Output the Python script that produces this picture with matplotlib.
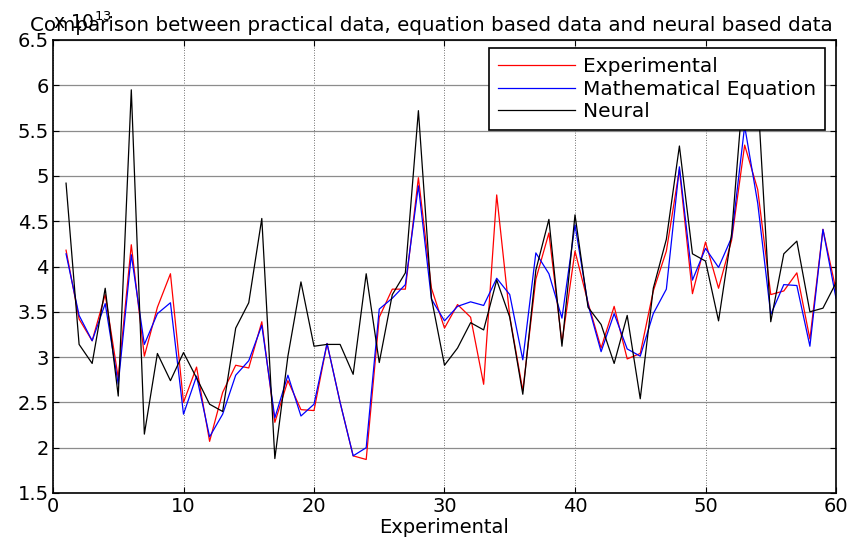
import matplotlib
matplotlib.use("Agg")
import matplotlib.pyplot as plt
from matplotlib.ticker import MultipleLocator, FormatStrFormatter

plt.rcParams['font.family'] = 'DejaVu Sans'

# values in units of 1e13, sample index 1..60
x = list(range(1, 61))

experimental = [
    4.18, 3.42, 3.18, 3.69, 2.77, 4.24, 3.01, 3.55, 3.92, 2.50,
    2.89, 2.07, 2.61, 2.91, 2.88, 3.39, 2.28, 2.74, 2.42, 2.41,
    3.15, 2.50, 1.91, 1.87, 3.44, 3.75, 3.75, 4.98, 3.76, 3.32,
    3.58, 3.44, 2.70, 4.79, 3.45, 2.63, 3.86, 4.37, 3.16, 4.17,
    3.60, 3.10, 3.56, 2.98, 3.04, 3.73, 4.17, 5.07, 3.70, 4.27,
    3.76, 4.29, 5.34, 4.85, 3.69, 3.73, 3.93, 3.20, 4.41, 3.74]

equation = [
    4.14, 3.46, 3.18, 3.59, 2.70, 4.13, 3.14, 3.48, 3.60, 2.37,
    2.79, 2.12, 2.37, 2.80, 2.96, 3.35, 2.33, 2.80, 2.35, 2.48,
    3.15, 2.50, 1.91, 2.00, 3.53, 3.65, 3.80, 4.89, 3.64, 3.40,
    3.56, 3.61, 3.57, 3.87, 3.69, 2.97, 4.15, 3.92, 3.43, 4.46,
    3.58, 3.06, 3.48, 3.09, 3.01, 3.48, 3.75, 5.10, 3.85, 4.20,
    3.99, 4.32, 5.55, 4.70, 3.47, 3.80, 3.79, 3.12, 4.41, 3.65]

neural = [
    4.92, 3.14, 2.93, 3.76, 2.57, 5.95, 2.15, 3.04, 2.74, 3.05,
    2.77, 2.48, 2.40, 3.32, 3.60, 4.53, 1.88, 3.01, 3.83, 3.12,
    3.14, 3.14, 2.81, 3.92, 2.94, 3.69, 3.93, 5.72, 3.65, 2.91,
    3.10, 3.38, 3.30, 3.85, 3.44, 2.59, 3.96, 4.52, 3.12, 4.57,
    3.55, 3.36, 2.93, 3.46, 2.54, 3.76, 4.30, 5.33, 4.14, 4.06,
    3.40, 4.36, 6.15, 5.90, 3.39, 4.14, 4.28, 3.50, 3.54, 3.82]

fig = plt.figure(figsize=(8.59, 5.44), dpi=100)
ax = fig.add_axes([53 / 859, 1 - 493 / 544, (836 - 53) / 859, (493 - 40) / 544])

ax.plot(x, experimental, color='#ff0000', lw=0.9, label='Experimental')
ax.plot(x, equation, color='#0000ff', lw=0.9, label='Mathematical Equation')
ax.plot(x, neural, color='black', lw=0.9, label='Neural')

ax.set_xlim(0, 60)
ax.set_ylim(1.5, 6.5)
ax.xaxis.set_major_locator(MultipleLocator(10))
ax.yaxis.set_major_locator(MultipleLocator(0.5))
ax.yaxis.set_major_formatter(FormatStrFormatter('%g'))

# matlab-ish grid: horizontal grey, vertical dotted
ax.yaxis.grid(True, color='#8c8c8c', lw=0.9, ls='-')
ax.xaxis.grid(True, color='#444444', lw=0.6, ls=(0, (1, 2)))
ax.set_axisbelow(True)

ax.tick_params(direction='in', top=True, right=True, length=4, labelsize=14,
               pad=3)
for s in ax.spines.values():
    s.set_linewidth(1.2)

ax.set_xlabel('Experimental', fontsize=14, labelpad=1)
ax.text(0.483, 1.01, 'Comparison between practical data, equation based data and neural based data',
        transform=ax.transAxes, ha='center', va='bottom', fontsize=14.3)
ax.text(0.0, 1.015, 'x 10$^{13}$', transform=ax.transAxes, ha='left', va='bottom',
        fontsize=13.5)

leg = ax.legend(loc='upper right', bbox_to_anchor=(1 - 11 / 783, 1 - 8 / 453),
                fontsize=14.5, frameon=True, fancybox=False, framealpha=1,
                edgecolor='black', handlelength=3.8, handletextpad=0.4,
                labelspacing=0.18, borderpad=0.45, borderaxespad=0)
leg.get_frame().set_linewidth(1.2)

fig.savefig('out.png', dpi=100)
